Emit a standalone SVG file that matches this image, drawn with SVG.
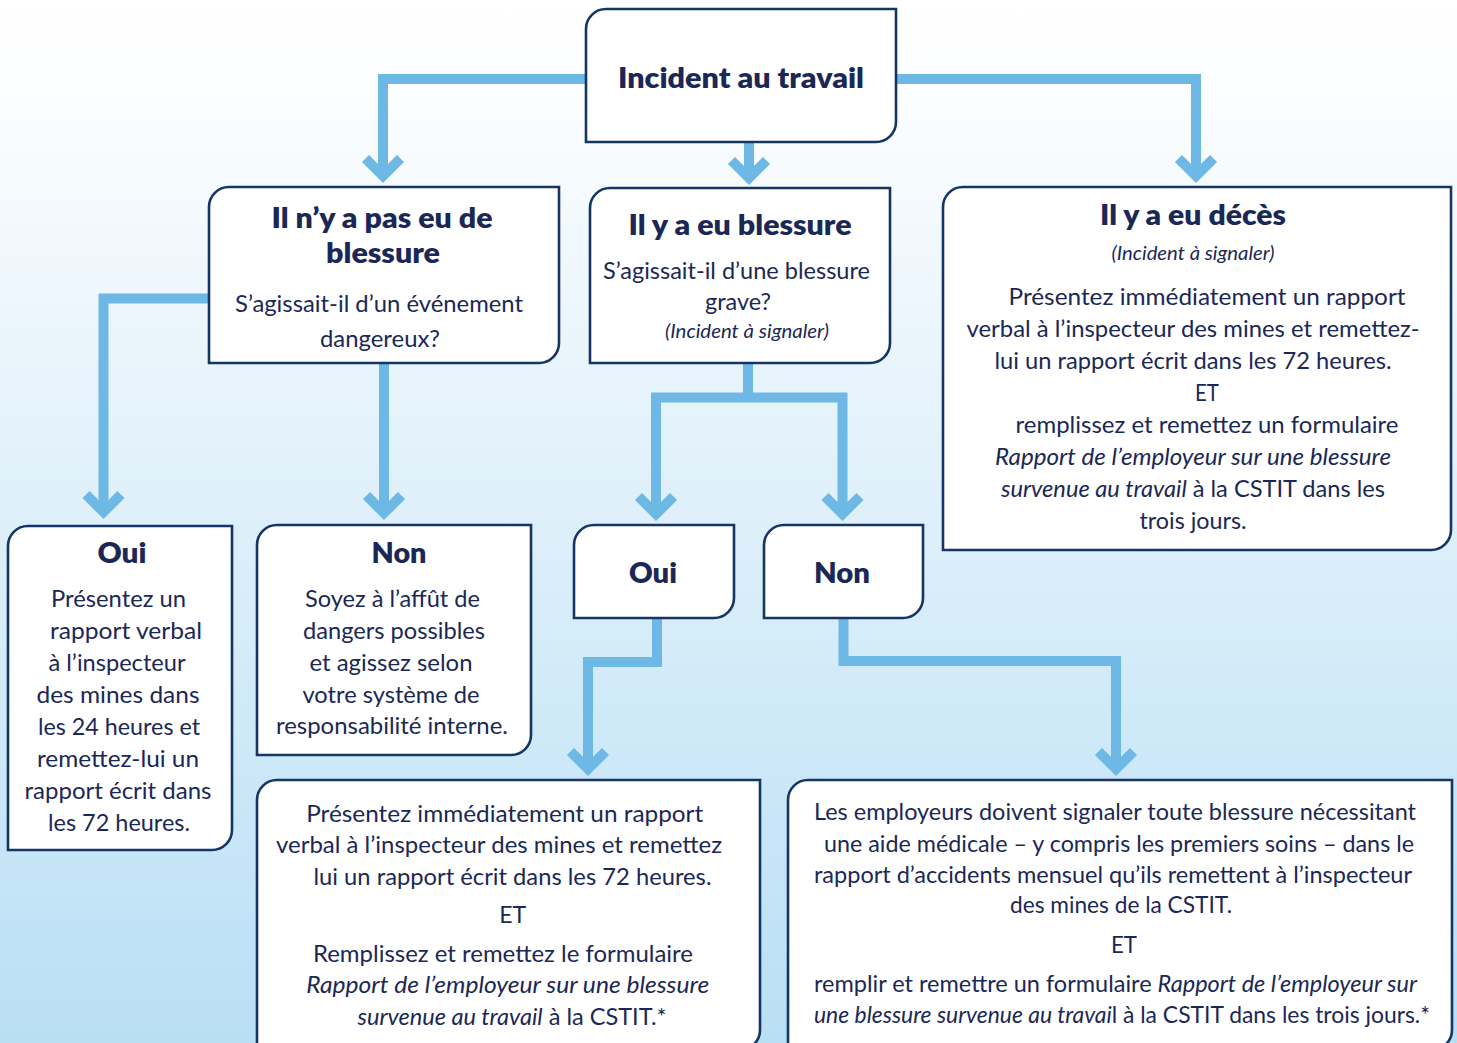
<svg xmlns="http://www.w3.org/2000/svg" xmlns:xlink="http://www.w3.org/1999/xlink" width="1457" height="1043" viewBox="0 0 1457 1043">
<defs>
<linearGradient id="bg" x1="0" y1="0" x2="0" y2="1">
<stop offset="0" stop-color="#ffffff"/>
<stop offset="0.07" stop-color="#fdfeff"/>
<stop offset="0.3" stop-color="#ecf6fc"/>
<stop offset="1" stop-color="#b9dff5"/>
</linearGradient>
<path id="chev" d="M-17.5,-17.5 L0,0 L17.5,-17.5" fill="none" stroke="#6db8e4" stroke-width="10" stroke-linejoin="miter" stroke-miterlimit="4"/>
<style>
.box{fill:#ffffff;stroke:#153564;stroke-width:2.6}
.con{fill:none;stroke:#6db8e4;stroke-width:10;stroke-linejoin:miter}
text{font-family:Lato,"Open Sans","Liberation Sans",sans-serif;fill:#1b2856;text-anchor:middle}
.b{font-weight:800;font-size:29px}
.r{font-size:24px}
.i{font-style:italic}
.s{font-size:19px;font-style:italic}
</style>
</defs>
<rect x="0" y="0" width="1457" height="1043" fill="url(#bg)"/>

<g id="connectors">
<path class="con" d="M590,79 H383 V176"/>
<use xlink:href="#chev" x="383" y="176"/>
<path class="con" d="M892,79 H1196 V176"/>
<use xlink:href="#chev" x="1196" y="176"/>
<path class="con" d="M749,140 V178"/>
<use xlink:href="#chev" x="749" y="178"/>
<path class="con" d="M212,298.5 H103.5 V512"/>
<use xlink:href="#chev" x="103.5" y="512"/>
<path class="con" d="M384,360 V513"/>
<use xlink:href="#chev" x="384" y="513"/>
<path class="con" d="M748,360 V397.5"/>
<path class="con" d="M656,514 V397.5 H842.5 V514"/>
<use xlink:href="#chev" x="656" y="514"/>
<use xlink:href="#chev" x="842.5" y="514"/>
<path class="con" d="M657,615 V662 H588 V769"/>
<use xlink:href="#chev" x="588" y="769"/>
<path class="con" d="M843.5,615 V661 H1116 V769"/>
<use xlink:href="#chev" x="1116" y="769"/>
</g>

<g id="incident">
<path class="box" d="M586,29 A20,20 0 0 1 606,9 H896 V122 A20,20 0 0 1 876,142 H586 Z"/>
<text class="b" x="741" y="88" font-size="30" textLength="246" lengthAdjust="spacingAndGlyphs">Incident au travail</text>
</g>

<g id="pas-blessure">
<path class="box" d="M209,207 A20,20 0 0 1 229,187 H559 V343 A20,20 0 0 1 539,363 H209 Z"/>
<text class="b" x="382" y="228" textLength="221" lengthAdjust="spacingAndGlyphs">Il n’y a pas eu de</text>
<text class="b" x="383" y="263" textLength="114" lengthAdjust="spacingAndGlyphs">blessure</text>
<text class="r" x="379" y="312" textLength="288" lengthAdjust="spacingAndGlyphs">S’agissait-il d’un événement</text>
<text class="r" x="380" y="347" textLength="120" lengthAdjust="spacingAndGlyphs">dangereux?</text>
</g>

<g id="blessure">
<path class="box" d="M590,208 A20,20 0 0 1 610,188 H890 V343 A20,20 0 0 1 870,363 H590 Z"/>
<text class="b" x="740" y="235" textLength="223" lengthAdjust="spacingAndGlyphs">Il y a eu blessure</text>
<text class="r" x="736.5" y="279" textLength="267" lengthAdjust="spacingAndGlyphs">S’agissait-il d’une blessure</text>
<text class="r" x="738" y="310" textLength="66" lengthAdjust="spacingAndGlyphs">grave?</text>
<text class="s" x="747" y="338" textLength="164" lengthAdjust="spacingAndGlyphs">(Incident à signaler)</text>
</g>

<g id="deces">
<path class="box" d="M943,207 A20,20 0 0 1 963,187 H1451 V530 A20,20 0 0 1 1431,550 H943 Z"/>
<text class="b" x="1193" y="225" textLength="186" lengthAdjust="spacingAndGlyphs">Il y a eu décès</text>
<text class="s" x="1193" y="260" textLength="163" lengthAdjust="spacingAndGlyphs">(Incident à signaler)</text>
<text class="r" x="1207" y="305" textLength="397" lengthAdjust="spacingAndGlyphs">Présentez immédiatement un rapport</text>
<text class="r" x="1193" y="337" textLength="453" lengthAdjust="spacingAndGlyphs">verbal à l’inspecteur des mines et remettez-</text>
<text class="r" x="1193" y="369" textLength="397" lengthAdjust="spacingAndGlyphs">lui un rapport écrit dans les 72 heures.</text>
<text class="r" x="1207" y="401" textLength="24" lengthAdjust="spacingAndGlyphs">ET</text>
<text class="r" x="1207" y="433" textLength="383" lengthAdjust="spacingAndGlyphs">remplissez et remettez un formulaire</text>
<text class="r i" x="1193" y="465" textLength="396" lengthAdjust="spacingAndGlyphs">Rapport de l’employeur sur une blessure</text>
<text class="r" x="1193" y="497" textLength="384" lengthAdjust="spacingAndGlyphs"><tspan class="i">survenue au travail</tspan> à la CSTIT dans les</text>
<text class="r" x="1193" y="529" textLength="107" lengthAdjust="spacingAndGlyphs">trois jours.</text>
</g>

<g id="oui-gauche">
<path class="box" d="M8,546 A20,20 0 0 1 28,526 H232 V830 A20,20 0 0 1 212,850 H8 Z"/>
<text class="b" x="122" y="563" textLength="49" lengthAdjust="spacingAndGlyphs">Oui</text>
<text class="r" x="118.5" y="607" textLength="135" lengthAdjust="spacingAndGlyphs">Présentez un</text>
<text class="r" x="126" y="639" textLength="152" lengthAdjust="spacingAndGlyphs">rapport verbal</text>
<text class="r" x="117" y="671" textLength="137" lengthAdjust="spacingAndGlyphs">à l’inspecteur</text>
<text class="r" x="118" y="703" textLength="163" lengthAdjust="spacingAndGlyphs">des mines dans</text>
<text class="r" x="119" y="735" textLength="162" lengthAdjust="spacingAndGlyphs">les 24 heures et</text>
<text class="r" x="118" y="767" textLength="162" lengthAdjust="spacingAndGlyphs">remettez-lui un</text>
<text class="r" x="118" y="799" textLength="187" lengthAdjust="spacingAndGlyphs">rapport écrit dans</text>
<text class="r" x="119" y="831" textLength="142" lengthAdjust="spacingAndGlyphs">les 72 heures.</text>
</g>

<g id="non-gauche">
<path class="box" d="M257,545 A20,20 0 0 1 277,525 H531 V735 A20,20 0 0 1 511,755 H257 Z"/>
<text class="b" x="399" y="563" textLength="55" lengthAdjust="spacingAndGlyphs">Non</text>
<text class="r" x="392.5" y="607" textLength="175" lengthAdjust="spacingAndGlyphs">Soyez à l’affût de</text>
<text class="r" x="394" y="639" textLength="182" lengthAdjust="spacingAndGlyphs">dangers possibles</text>
<text class="r" x="391" y="671" textLength="163" lengthAdjust="spacingAndGlyphs">et agissez selon</text>
<text class="r" x="391" y="703" textLength="177" lengthAdjust="spacingAndGlyphs">votre système de</text>
<text class="r" x="392" y="734" textLength="232" lengthAdjust="spacingAndGlyphs">responsabilité interne.</text>
</g>

<g id="oui-centre">
<path class="box" d="M574,545 A20,20 0 0 1 594,525 H734 V598 A20,20 0 0 1 714,618 H574 Z"/>
<text class="b" x="653" y="583" textLength="48" lengthAdjust="spacingAndGlyphs">Oui</text>
</g>

<g id="non-centre">
<path class="box" d="M764,545 A20,20 0 0 1 784,525 H923 V598 A20,20 0 0 1 903,618 H764 Z"/>
<text class="b" x="842" y="583" textLength="56" lengthAdjust="spacingAndGlyphs">Non</text>
</g>

<g id="rapport-grave">
<path class="box" d="M257,800 A20,20 0 0 1 277,780 H760 V1030 A20,20 0 0 1 740,1050 H257 Z"/>
<text class="r" x="504.7" y="822" textLength="397" lengthAdjust="spacingAndGlyphs">Présentez immédiatement un rapport</text>
<text class="r" x="499" y="853" textLength="446" lengthAdjust="spacingAndGlyphs">verbal à l’inspecteur des mines et remettez</text>
<text class="r" x="512.5" y="885" textLength="398" lengthAdjust="spacingAndGlyphs">lui un rapport écrit dans les 72 heures.</text>
<text class="r" x="512.7" y="923" textLength="27" lengthAdjust="spacingAndGlyphs">ET</text>
<text class="r" x="503" y="962" textLength="380" lengthAdjust="spacingAndGlyphs">Remplissez et remettez le formulaire</text>
<text class="r i" x="507.7" y="993" textLength="403" lengthAdjust="spacingAndGlyphs">Rapport de l’employeur sur une blessure</text>
<text class="r" x="512" y="1025" textLength="309" lengthAdjust="spacingAndGlyphs"><tspan class="i">survenue au travail</tspan> à la CSTIT.*</text>
</g>

<g id="rapport-mensuel">
<path class="box" d="M788,800 A20,20 0 0 1 808,780 H1452 V1030 A20,20 0 0 1 1432,1050 H788 Z"/>
<text class="r" x="1115" y="820" textLength="602" lengthAdjust="spacingAndGlyphs">Les employeurs doivent signaler toute blessure nécessitant</text>
<text class="r" x="1119" y="852" textLength="590" lengthAdjust="spacingAndGlyphs">une aide médicale – y compris les premiers soins – dans le</text>
<text class="r" x="1113" y="883" textLength="598" lengthAdjust="spacingAndGlyphs">rapport d’accidents mensuel qu’ils remettent à l’inspecteur</text>
<text class="r" x="1121" y="913" textLength="222" lengthAdjust="spacingAndGlyphs">des mines de la CSTIT.</text>
<text class="r" x="1124" y="953" textLength="26" lengthAdjust="spacingAndGlyphs">ET</text>
<text class="r" x="1115.5" y="992" textLength="603" lengthAdjust="spacingAndGlyphs">remplir et remettre un formulaire <tspan class="i">Rapport de l’employeur sur</tspan></text>
<text class="r" x="1122" y="1023" textLength="616" lengthAdjust="spacingAndGlyphs"><tspan class="i">une blessure survenue au travai</tspan>l à la CSTIT dans les trois jours.*</text>
</g>
</svg>
